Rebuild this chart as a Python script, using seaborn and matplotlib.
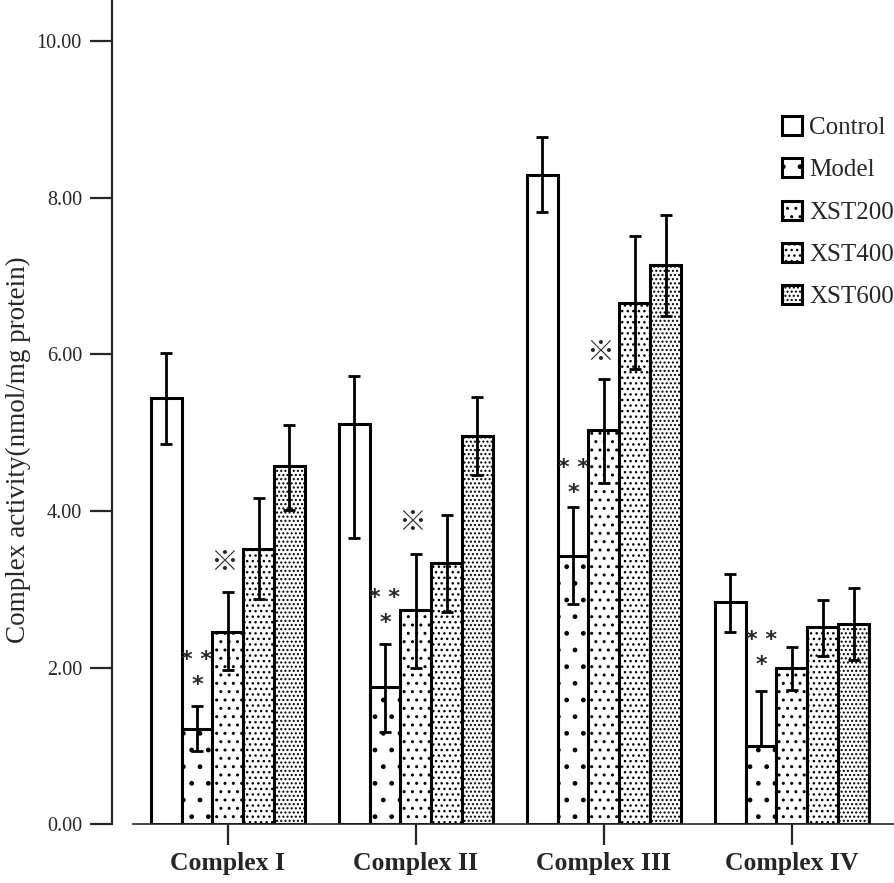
import matplotlib
matplotlib.use("Agg")
import matplotlib.pyplot as plt
import pandas as pd
import seaborn as sns

complexes = ["Complex I", "Complex II", "Complex III", "Complex IV"]
groups = ["Control", "Model", "XST200", "XST400", "XST600"]

# bar heights, one list per group (Complex I..IV)
control = [5.45, 5.11, 8.30, 2.84]
model = [1.21, 1.75, 3.43, 1.00]
xst200 = [2.46, 2.73, 5.03, 1.99]
xst400 = [3.52, 3.33, 6.66, 2.52]
xst600 = [4.58, 4.96, 7.14, 2.56]

# error bar ends (lower, upper)
control_lo = [4.85, 3.65, 7.82, 2.46]
control_hi = [6.02, 5.72, 8.78, 3.20]
model_lo = [0.93, 1.18, 2.81, 1.00]
model_hi = [1.51, 2.30, 4.05, 1.70]
xst200_lo = [1.97, 1.99, 4.36, 1.71]
xst200_hi = [2.97, 3.45, 5.69, 2.26]
xst400_lo = [2.88, 2.71, 5.82, 2.15]
xst400_hi = [4.17, 3.95, 7.51, 2.86]
xst600_lo = [4.01, 4.46, 6.49, 2.09]
xst600_hi = [5.10, 5.46, 7.78, 3.02]

# significance marks
star_y = [2.10, 2.89, 4.55, 2.35]
ref_y = [3.34, 3.85, 6.02]

values = [control, model, xst200, xst400, xst600]
lows = [control_lo, model_lo, xst200_lo, xst400_lo, xst600_lo]
highs = [control_hi, model_hi, xst200_hi, xst400_hi, xst600_hi]
hatches = ["", ".", "..", "...", "...."]

rows = []
for g, vals in zip(groups, values):
    for c, v in zip(complexes, vals):
        rows.append({"complex": c, "group": g, "value": v})
df = pd.DataFrame(rows)

sns.set_style("ticks")
plt.rcParams["font.family"] = ["Liberation Serif", "DejaVu Sans"]
plt.rcParams["hatch.linewidth"] = 1.0

fig = plt.figure(figsize=(8.94, 8.83), dpi=100)
ax = fig.add_axes([0.125, 0.0668, 0.875, 0.9332])

sns.barplot(data=df, x="complex", y="value", hue="group", hue_order=groups,
            palette=["white"] * 5, edgecolor="black", linewidth=2.2,
            width=0.82, errorbar=None, legend=False, ax=ax, saturation=1)

for cont, h, vals, lo, hi in zip(ax.containers, hatches, values, lows, highs):
    xs = []
    for p in cont.patches:
        p.set_hatch(h)
        xs.append(p.get_x() + p.get_width() / 2)
    err = [[v - l for v, l in zip(vals, lo)], [u - v for v, u in zip(vals, hi)]]
    ax.errorbar(xs, vals, yerr=err, fmt="none", ecolor="black",
                elinewidth=2, capsize=4, capthick=2, zorder=5)

# stars over Model bars, reference marks over XST200 bars
model_x = [p.get_x() + p.get_width() / 2 for p in ax.containers[1].patches]
x200 = [p.get_x() + p.get_width() / 2 for p in ax.containers[2].patches]
for x, y in zip(model_x, star_y):
    ax.text(x, y, "* *", ha="center", va="center", fontsize=16,
            family="DejaVu Sans", fontweight="bold")
    ax.text(x, y - 0.32, "*", ha="center", va="center", fontsize=16,
            family="DejaVu Sans", fontweight="bold")
for x, y in zip(x200, ref_y):
    ax.text(x - 0.02, y, "※", ha="center", va="center", fontsize=20,
            family=["Noto Sans CJK SC", "DejaVu Sans"])

ax.set_ylim(0, 10.53)
ax.set_xlim(-0.617, 3.543)
ax.set_yticks([0, 2, 4, 6, 8, 10])
ax.set_yticklabels(["%.2f" % t for t in [0, 2, 4, 6, 8, 10]], fontsize=14.5)
ax.set_xticks(range(4))
ax.set_xticklabels(complexes, fontsize=18.5, fontweight="bold")
ax.tick_params(axis="y", length=15.5, width=1.6, pad=6)
ax.tick_params(axis="x", length=15, width=1.6, pad=5)
ax.set_xlabel("")
ax.set_ylabel("Complex activity(nmol/mg protein)", fontsize=19.5)
ax.yaxis.set_label_coords(-0.103, 0.454)

sns.despine(ax=ax)
ax.spines["left"].set_linewidth(1.6)
ax.spines["bottom"].set_linewidth(1.2)
ax.spines["bottom"].set_bounds(-0.505, 3.543)

ax.legend(handles=ax.containers, labels=groups, loc="upper left",
          bbox_to_anchor=(782 / 894, 1 - 116 / 883), bbox_transform=fig.transFigure,
          frameon=False, fontsize=18, handlelength=0.8, handleheight=0.8,
          handletextpad=0.28, labelspacing=0.76, borderpad=0, borderaxespad=0)

fig.savefig("out.png", dpi=100)
